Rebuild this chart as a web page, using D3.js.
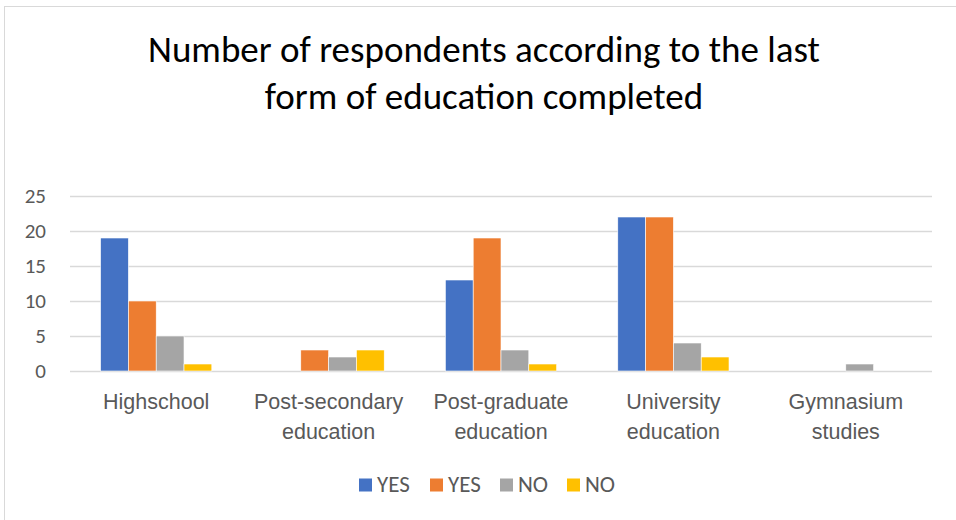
<!DOCTYPE html>
<html>
<head>
<meta charset="utf-8">
<script src="https://cdn.jsdelivr.net/npm/d3@7"></script>
<style>
  html, body { margin: 0; padding: 0; background: #fff; }
  svg { display: block; font-family: Carlito, Lato, "Open Sans", sans-serif; }
</style>
</head>
<body>
<svg id="chart" width="956" height="520"></svg>
<script>
// Survey counts by last completed form of education
const categories = ["Highschool", "Post-secondary education", "Post-graduate education", "University education", "Gymnasium studies"];
const seriesNames = ["YES", "YES", "NO", "NO"];
const seriesColors = ["#4472C4", "#ED7D31", "#A5A5A5", "#FFC000"];
const yesA = [19, 0, 13, 22, 0];
const yesB = [10, 3, 19, 22, 0];
const noA  = [5, 2, 3, 4, 1];
const noB  = [1, 3, 1, 2, 0];
const yTicks = [0, 5, 10, 15, 20, 25];
const titleLines = ["Number of respondents according to the last", "form of education completed"];

const seriesValues = [yesA, yesB, noA, noB];

const svg = d3.select("#chart");

// outer frame of the chart area
svg.append("rect")
  .attr("x", 4.5).attr("y", 6.5)
  .attr("width", 1000).attr("height", 600)
  .attr("fill", "#fff").attr("stroke", "#d9d9d9").attr("stroke-width", 1);

// title
const title = svg.append("text")
  .attr("text-anchor", "middle")
  .attr("fill", "#000")
  .attr("font-size", 37);
title.selectAll("tspan").data(titleLines).join("tspan")
  .attr("x", 484)
  .attr("y", (d, i) => 62 + i * 47)
  .text(d => d);

const plot = { left: 70, right: 932, top: 196, bottom: 371 };

const x0 = d3.scaleBand()
  .domain(d3.range(categories.length))
  .range([plot.left, plot.right])
  .paddingInner(0).paddingOuter(0);

// bars occupy 4 of 6.2 bar-widths in each category (gap width ~220%)
const groupFrac = 4 / 6.2;
const x1 = d3.scaleBand()
  .domain(d3.range(seriesNames.length))
  .range([0, x0.bandwidth() * groupFrac]);
const groupOffset = (x0.bandwidth() - x0.bandwidth() * groupFrac) / 2;

const y = d3.scaleLinear().domain([0, 25]).range([plot.bottom, plot.top]);

// gridlines and value labels
const yAxis = d3.axisLeft(y).tickValues(yTicks).tickSize(-(plot.right - plot.left)).tickPadding(24);
const gy = svg.append("g").attr("transform", `translate(${plot.left},0)`).call(yAxis);
gy.select(".domain").remove();
gy.selectAll(".tick line").attr("stroke", "#d9d9d9").attr("stroke-width", 1.5);
gy.selectAll(".tick text")
  .attr("fill", "#595959").attr("font-size", 21)
  .attr("font-family", "Carlito, Lato, 'Open Sans', sans-serif");

// bars
const groups = svg.append("g").selectAll("g")
  .data(categories.map((c, i) => i))
  .join("g")
  .attr("transform", i => `translate(${x0(i) + groupOffset},0)`);

groups.selectAll("rect")
  .data(i => seriesValues.map((vals, s) => ({ s, v: vals[i] })))
  .join("rect")
  .filter(d => d.v > 0)
  .attr("x", d => x1(d.s))
  .attr("y", d => y(d.v))
  .attr("width", x1.bandwidth())
  .attr("height", d => y(0) - y(d.v))
  .attr("fill", d => seriesColors[d.s])
  .attr("stroke", "#fff").attr("stroke-width", 0.6);

// category labels (wrapped onto lines)
const xAxis = d3.axisBottom(x0).tickSize(0).tickFormat(() => "");
const gx = svg.append("g").attr("transform", `translate(0,${plot.bottom})`).call(xAxis);
gx.select(".domain").remove();
gx.selectAll(".tick").each(function(i) {
  const words = categories[i].split(" ");
  const t = d3.select(this).append("text")
    .attr("fill", "#595959").attr("font-size", 21.5)
    .attr("text-anchor", "middle");
  t.selectAll("tspan").data(words).join("tspan")
    .attr("x", 0)
    .attr("y", (d, k) => 38 + k * 30)
    .text(d => d);
});

// legend
const legendItems = seriesNames.map((n, i) => ({ n, c: seriesColors[i] }));
const legend = svg.append("g").attr("font-size", 23).attr("fill", "#595959");
const legendX = [359, 430, 500, 567];
legendItems.forEach((d, i) => {
  const g = legend.append("g").attr("transform", `translate(${legendX[i]},0)`);
  g.append("rect").attr("x", 0).attr("y", 478.5).attr("width", 13).attr("height", 13).attr("fill", d.c);
  g.append("text").attr("x", 18).attr("y", 492).text(d.n);
});
</script>
</body>
</html>
